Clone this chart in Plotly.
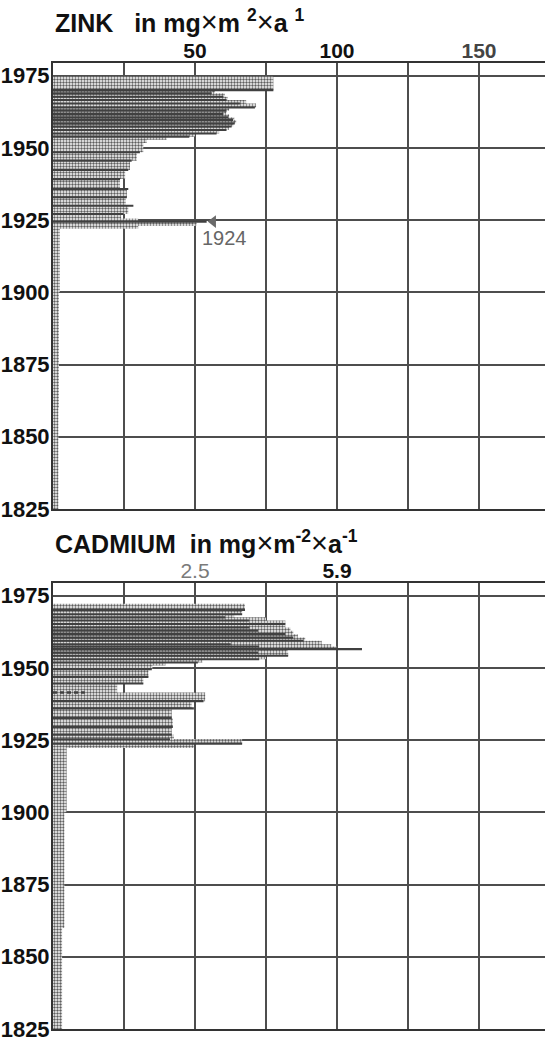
import plotly.graph_objects as go

# ---------------- data ----------------
year_ticks = [1825, 1850, 1875, 1900, 1925, 1950, 1975]

# ZINK (mg m-2 a-1)
zn_tick_vals = [50, 100, 150]
zn_tick_text = ["50", "100", "<span style='color:#444'>150</span>"]
zn_line_years = [1970.0, 1968.9, 1967.7, 1966.6, 1965.4, 1964.0, 1962.9, 1961.7, 1960.6, 1959.7,
                 1958.5, 1957.4, 1956.2, 1955.0, 1953.9, 1948.5, 1945.6, 1942.4, 1939.2, 1935.8,
                 1932.9, 1930.0, 1927.1, 1924.5]
zn_line_values = [77.6, 55.9, 60.0, 61.1, 65.8, 71.1, 61.1, 60.0, 61.7, 63.4,
                  64.0, 62.9, 61.1, 57.6, 48.0, 30.6, 27.7, 26.5, 23.6, 26.5,
                  26.0, 28.3, 24.8, 54.1]
zn_band_years = [1974.7, 1970.0, 1968.9, 1967.7, 1966.6, 1965.4, 1964.0, 1962.9, 1961.7, 1960.6,
                 1959.7, 1958.5, 1957.4, 1956.2, 1955.0, 1953.9, 1952.8, 1951.7, 1948.5, 1945.6,
                 1942.4, 1939.2, 1935.8, 1932.9, 1930.0, 1927.1, 1925.6, 1924.5, 1923.0, 1922.0,
                 1900.0, 1860.0, 1825.0]
zn_band_values = [77.6, 57.0, 60.5, 61.5, 68.0, 71.5, 62.0, 61.0, 62.0, 63.8,
                  64.5, 63.5, 62.0, 58.5, 50.0, 40.0, 33.0, 31.8, 29.5, 27.1,
                  25.4, 23.6, 26.0, 25.6, 26.5, 24.0, 30.0, 50.6, 30.0, 2.4,
                  2.1, 1.9, 1.9]
zn_marked_year = "1924"

# CADMIUM (mg m-2 a-1)
cd_tick_vals = [2.5, 5.0]
cd_tick_text = ["<span style='color:#7a7a7a;font-weight:normal'>2.5</span>", "5.9"]
cd_line_years = [1970.1, 1968.6, 1967.5, 1966.4, 1965.2, 1964.0, 1962.9, 1961.7, 1960.5, 1959.4,
                 1958.2, 1957.4, 1956.5, 1955.3, 1954.2, 1953.0, 1951.9, 1949.6, 1946.9, 1944.6,
                 1938.5, 1936.0, 1932.7, 1929.6, 1926.9, 1925.3, 1923.8]
cd_line_values = [3.38, 3.33, 3.03, 3.45, 4.09, 3.46, 3.61, 4.09, 4.23, 4.41,
                  3.13, 3.63, 5.44, 3.61, 4.14, 3.63, 2.55, 1.74, 1.68, 1.59,
                  2.65, 2.48, 2.09, 2.11, 2.09, 2.06, 3.33]
cd_dashed_years = [1941.5]
cd_dashed_values = [0.56]
cd_band_years = [1972.2, 1970.1, 1968.6, 1967.5, 1966.4, 1965.2, 1964.0, 1962.9, 1961.7, 1960.5,
                 1959.4, 1958.2, 1957.4, 1956.5, 1955.3, 1954.2, 1953.0, 1951.9, 1950.8, 1949.6,
                 1946.9, 1944.6, 1941.5, 1938.5, 1936.0, 1932.7, 1929.6, 1926.9, 1925.3, 1923.8,
                 1922.3, 1900.0, 1860.0, 1825.0]
cd_band_values = [3.38, 3.33, 3.19, 3.75, 4.09, 4.09, 4.18, 4.23, 4.31, 4.44,
                  4.73, 4.90, 5.00, 4.13, 4.14, 3.75, 2.63, 1.98, 1.75, 1.68,
                  1.59, 1.13, 2.68, 2.44, 2.09, 2.11, 2.09, 2.13, 3.33, 2.48,
                  0.24, 0.20, 0.16, 0.16]

# ---------------- style ----------------
NARROW = "Noto Sans Condensed, Liberation Sans Narrow, Liberation Sans, Arial, sans-serif"
SANS = "Liberation Sans, Arial, Helvetica, sans-serif"
GRID = "#4d4d4d"
LINE = "#404040"
STIPPLE = dict(shape=".", fgcolor="#5e5e5e", bgcolor="white", size=3, solidity=0.5)

fig = go.Figure()


def segments(ys_in, xs_in):
    xs, ys = [], []
    for y, v in zip(ys_in, xs_in):
        xs += [0, v, None]
        ys += [y, y, None]
    return xs, ys


def add_panel(band_y, band_x, line_y, line_x, xa, ya):
    # stippled envelope
    fig.add_trace(go.Scatter(
        x=band_x, y=band_y, mode="lines", xaxis=xa, yaxis=ya,
        line=dict(width=0, shape="vh", color="rgba(0,0,0,0)"),
        fill="tozerox", fillcolor="white", fillpattern=STIPPLE,
        hoverinfo="skip", showlegend=False))
    # dark horizontal lines, one per layer, drawn from the axis to the value
    xs, ys = segments(line_y, line_x)
    fig.add_trace(go.Scatter(
        x=xs, y=ys, mode="lines", xaxis=xa, yaxis=ya,
        line=dict(width=2.1, color=LINE), hoverinfo="skip", showlegend=False))


add_panel(zn_band_years, zn_band_values, zn_line_years, zn_line_values, "x", "y")
add_panel(cd_band_years, cd_band_values, cd_line_years, cd_line_values, "x2", "y2")

dx, dy = segments(cd_dashed_years, cd_dashed_values)
fig.add_trace(go.Scatter(
    x=dx, y=dy, mode="lines", xaxis="x2", yaxis="y2",
    line=dict(width=2.3, color=LINE, dash="4px,3px"), hoverinfo="skip", showlegend=False))

# arrow marker for the 1924 layer
fig.add_trace(go.Scatter(
    x=[zn_line_values[-1] + 2.3], y=[zn_line_years[-1]], mode="markers",
    marker=dict(symbol="triangle-left", size=11, color="#6a6a6a"),
    xaxis="x", yaxis="y", showlegend=False, hoverinfo="skip"))

W, H = 545, 1039
ML, MR, MT, MB = 53, 0, 63, 10
ph = H - MT - MB
panel_h = 446
gap = ph - 2 * panel_h

xrange_zn = [0, 25 * (W - ML - MR) / 71.0]
xrange_cd = [0, 1.25 * (W - ML - MR) / 71.0]
yrange = [1825, 1979.4]

tickfont = dict(family=NARROW, size=21, color="#111111", weight="bold")
ytickfont = dict(family=NARROW, size=22, color="#111111", weight="bold")


def xaxis_cfg(rng, tv, tt, anchor, minor_step):
    return dict(range=rng, side="top", anchor=anchor, tickmode="array", tickvals=tv, ticktext=tt,
                tickfont=tickfont, ticks="", ticklabelstandoff=-5, ticklabeloverflow="allow",
                showgrid=True, gridcolor=GRID, gridwidth=1.7,
                minor=dict(tick0=0, dtick=minor_step, showgrid=True, gridcolor=GRID, gridwidth=1.7),
                showline=True, mirror=True, linecolor="#333333", linewidth=2,
                zeroline=False, fixedrange=True)


def yaxis_cfg(domain, anchor):
    return dict(range=yrange, domain=domain, anchor=anchor, tickmode="array", tickvals=year_ticks,
                tickfont=ytickfont, ticks="", ticklabelstandoff=-3, ticklabeloverflow="allow",
                showgrid=True, gridcolor=GRID, gridwidth=1.7,
                showline=True, mirror=False, linecolor="#333333", linewidth=2,
                zeroline=False, fixedrange=True)


fig.update_layout(
    width=W, height=H, margin=dict(l=ML, r=MR, t=MT, b=MB),
    template="none", paper_bgcolor="white", plot_bgcolor="white",
    showlegend=False,
    xaxis=xaxis_cfg(xrange_zn, zn_tick_vals, zn_tick_text, "y", 25),
    yaxis=yaxis_cfg([(panel_h + gap) / ph, 1], "x"),
    xaxis2=xaxis_cfg(xrange_cd, cd_tick_vals, cd_tick_text, "y2", 1.25),
    yaxis2=yaxis_cfg([0, panel_h / ph], "x2"),
)

X = "<span style='font-weight:normal;font-size:29px'>\u00d7</span>"
NB = "\u00a0"
titles = [
    ("ZINK" + NB * 3 + "in mg" + X + "m" + NB + "<sup>2</sup>" + X + "a" + NB + "<sup>1</sup>",
     (H - MB - 22) / ph),
    ("CADMIUM" + NB * 2 + "in mg" + X + "m<sup>-2</sup>" + X + "a<sup>-1</sup>",
     (H - MB - 542) / ph),
]
for txt, yp in titles:
    fig.add_annotation(text=txt, xref="paper", yref="paper", x=0, y=yp,
                       xanchor="left", yanchor="middle", showarrow=False,
                       font=dict(family=SANS, size=25, color="#111111", weight="bold"))

fig.add_annotation(text=zn_marked_year, xref="x", yref="y",
                   x=zn_line_values[-1], y=zn_line_years[-1],
                   xanchor="left", yanchor="middle", xshift=-7, yshift=-16, showarrow=False,
                   font=dict(family=SANS, size=20, color="#666666"))

fig.write_html("out.html")
